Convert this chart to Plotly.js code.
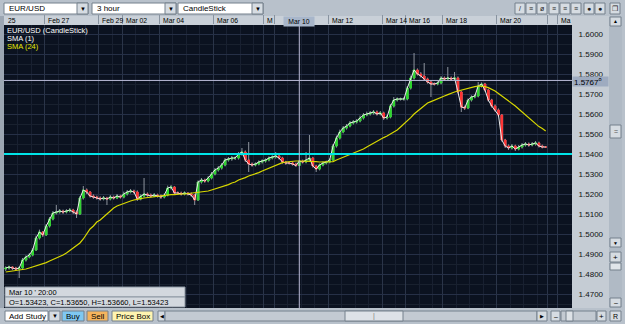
<!DOCTYPE html>
<html><head><meta charset="utf-8">
<script src="https://cdn.plot.ly/plotly-3.0.1.min.js"></script>
<style>html,body{margin:0;padding:0;background:#b8c1cb;overflow:hidden}#chart{width:625px;height:324px}</style>
</head><body><div id="chart"></div>
<script>
// ---------------- DATA (3-hour EUR/USD candles) ----------------
const openP=[1.4825,1.4830,1.4835,1.4830,1.4825,1.4830,1.4870,1.4885,1.4895,1.4920,
 1.4980,1.5010,1.4995,1.5040,1.5075,1.5105,1.5110,1.5115,1.5110,1.5115,
 1.5120,1.5110,1.5100,1.5180,1.5220,1.5210,1.5190,1.5185,1.5180,1.5175,
 1.5180,1.5175,1.5185,1.5180,1.5190,1.5185,1.5200,1.5210,1.5215,1.5210,
 1.5175,1.5190,1.5200,1.5195,1.5190,1.5195,1.5190,1.5185,1.5195,1.5230,
 1.5235,1.5205,1.5205,1.5200,1.5205,1.5200,1.5195,1.5170,1.5260,1.5270,
 1.5265,1.5280,1.5300,1.5320,1.5330,1.5345,1.5370,1.5375,1.5380,1.5380,
 1.5400,1.5410,1.5370,1.5350,1.5345,1.5350,1.5360,1.5365,1.5370,1.5380,
 1.5385,1.5390,1.5380,1.5360,1.5355,1.5355,1.5350,1.53423,1.5365,1.5360,
 1.5370,1.5380,1.5340,1.5325,1.5345,1.5355,1.5360,1.5370,1.5440,1.5480,
 1.5510,1.5530,1.5540,1.5555,1.5560,1.5565,1.5580,1.5595,1.5600,1.5605,
 1.5610,1.5600,1.5605,1.5580,1.5585,1.5640,1.5670,1.5675,1.5675,1.5675,
 1.5730,1.5780,1.5820,1.5800,1.5790,1.5775,1.5760,1.5750,1.5750,1.5755,
 1.5780,1.5775,1.5780,1.5775,1.5780,1.5710,1.5635,1.5630,1.5670,1.5685,
 1.5690,1.5740,1.5750,1.5720,1.5670,1.5640,1.5620,1.5595,1.5470,1.5440,
 1.5430,1.5440,1.5425,1.5435,1.5445,1.5450,1.5445,1.5450,1.5455,1.5440,
 1.5435];
const highP=[1.4838,1.4842,1.4840,1.4836,1.4838,1.4880,1.4893,1.4905,1.4930,1.4992,
 1.5022,1.5015,1.5050,1.5085,1.5115,1.5145,1.5125,1.5122,1.5124,1.5130,
 1.5126,1.5118,1.5190,1.5240,1.5228,1.5215,1.5198,1.5192,1.5188,1.5190,
 1.5186,1.5195,1.5192,1.5200,1.5196,1.5212,1.5220,1.5225,1.5222,1.5218,
 1.5198,1.5280,1.5208,1.5203,1.5205,1.5202,1.5198,1.5203,1.5242,1.5245,
 1.5240,1.5213,1.5212,1.5213,1.5210,1.5208,1.5200,1.5268,1.5280,1.5277,
 1.5290,1.5310,1.5330,1.5340,1.5355,1.5380,1.5385,1.5390,1.5388,1.5410,
 1.5430,1.5418,1.5460,1.5358,1.5358,1.5368,1.5373,1.5378,1.5388,1.5393,
 1.5410,1.5396,1.5386,1.5366,1.5363,1.5362,1.5357,1.5366,1.5372,1.5410,
 1.5495,1.5386,1.5346,1.5352,1.5362,1.5367,1.5378,1.5450,1.5492,1.5522,
 1.5540,1.5550,1.5565,1.5570,1.5575,1.5592,1.5605,1.5612,1.5615,1.5620,
 1.5618,1.5615,1.5612,1.5595,1.5650,1.5685,1.5683,1.5682,1.5684,1.5740,
 1.5792,1.5905,1.5828,1.5810,1.5855,1.5782,1.5768,1.5758,1.5763,1.5790,
 1.5788,1.5835,1.5788,1.5810,1.5788,1.5716,1.5642,1.5678,1.5693,1.5698,
 1.5760,1.5758,1.5756,1.5726,1.5676,1.5648,1.5628,1.5600,1.5476,1.5448,
 1.5450,1.5447,1.5445,1.5455,1.5460,1.5458,1.5460,1.5465,1.5462,1.5447,
 1.5440];
const lowP=[1.4815,1.4822,1.4820,1.4815,1.4780,1.4825,1.4862,1.4878,1.4888,1.4915,
 1.4972,1.4985,1.4990,1.5032,1.5068,1.5098,1.5102,1.5100,1.5103,1.5108,
 1.5100,1.5080,1.5095,1.5172,1.5200,1.5182,1.5176,1.5172,1.5166,1.5168,
 1.5145,1.5168,1.5172,1.5174,1.5177,1.5178,1.5192,1.5203,1.5202,1.5165,
 1.5168,1.5183,1.5186,1.5182,1.5184,1.5182,1.5175,1.5178,1.5188,1.5222,
 1.5198,1.5196,1.5192,1.5193,1.5192,1.5186,1.5145,1.5165,1.5252,1.5256,
 1.5258,1.5273,1.5293,1.5312,1.5322,1.5338,1.5362,1.5366,1.5370,1.5372,
 1.5392,1.5360,1.5310,1.5336,1.5338,1.5343,1.5352,1.5357,1.5363,1.5373,
 1.5377,1.5372,1.5352,1.5346,1.5347,1.5342,1.5335,1.53423,1.5352,1.5353,
 1.5362,1.5332,1.5310,1.5318,1.5338,1.5348,1.5353,1.5365,1.5432,1.5472,
 1.5503,1.5522,1.5533,1.5547,1.5552,1.5558,1.5572,1.5588,1.5592,1.5597,
 1.5592,1.5593,1.5570,1.5572,1.5578,1.5632,1.5662,1.5667,1.5666,1.5668,
 1.5722,1.5772,1.5792,1.5782,1.5766,1.5752,1.5685,1.5742,1.5743,1.5748,
 1.5767,1.5768,1.5766,1.5768,1.5702,1.5610,1.5620,1.5624,1.5662,1.5678,
 1.5683,1.5732,1.5712,1.5662,1.5632,1.5612,1.5587,1.5462,1.5430,1.5420,
 1.5422,1.5415,1.5418,1.5427,1.5437,1.5436,1.5438,1.5442,1.5432,1.5428,
 1.5430];
const closeP=[1.4830,1.4835,1.4830,1.4825,1.4830,1.4870,1.4885,1.4895,1.4920,1.4980,
 1.5010,1.4995,1.5040,1.5075,1.5105,1.5110,1.5115,1.5110,1.5115,1.5120,
 1.5110,1.5100,1.5180,1.5220,1.5210,1.5190,1.5185,1.5180,1.5175,1.5180,
 1.5175,1.5185,1.5180,1.5190,1.5185,1.5200,1.5210,1.5215,1.5210,1.5175,
 1.5190,1.5200,1.5195,1.5190,1.5195,1.5190,1.5185,1.5195,1.5230,1.5235,
 1.5205,1.5205,1.5200,1.5205,1.5200,1.5195,1.5170,1.5260,1.5270,1.5265,
 1.5280,1.5300,1.5320,1.5330,1.5345,1.5370,1.5375,1.5380,1.5380,1.5400,
 1.5410,1.5370,1.5350,1.5345,1.5350,1.5360,1.5365,1.5370,1.5380,1.5385,
 1.5390,1.5380,1.5360,1.5355,1.5355,1.5350,1.53423,1.53650,1.5360,1.5370,
 1.5380,1.5340,1.5325,1.5345,1.5355,1.5360,1.5370,1.5440,1.5480,1.5510,
 1.5530,1.5540,1.5555,1.5560,1.5565,1.5580,1.5595,1.5600,1.5605,1.5610,
 1.5600,1.5605,1.5580,1.5585,1.5640,1.5670,1.5675,1.5675,1.5675,1.5730,
 1.5780,1.5820,1.5800,1.5790,1.5775,1.5760,1.5750,1.5750,1.5755,1.5780,
 1.5775,1.5780,1.5775,1.5780,1.5710,1.5635,1.5630,1.5670,1.5685,1.5690,
 1.5740,1.5750,1.5720,1.5670,1.5640,1.5620,1.5595,1.5470,1.5440,1.5430,
 1.5440,1.5425,1.5435,1.5445,1.5450,1.5445,1.5450,1.5455,1.5440,1.5435,
 1.5435];
const sma24=[1.4810,1.4812,1.4815,1.4817,1.4820,1.4822,1.4825,1.4830,1.4835,1.4840,
 1.4845,1.4850,1.4857,1.4865,1.4872,1.4880,1.4885,1.4895,1.4905,1.4917,
 1.4930,1.4945,1.4955,1.4975,1.5000,1.5025,1.5040,1.5060,1.5070,1.5085,
 1.5102,1.5115,1.5130,1.5140,1.5147,1.5155,1.5160,1.5165,1.5170,1.5175,
 1.5177,1.5180,1.5182,1.5185,1.5187,1.5190,1.5192,1.5195,1.5195,1.5197,
 1.5197,1.5200,1.5200,1.5200,1.5202,1.5205,1.5207,1.5210,1.5210,1.5212,
 1.5215,1.5220,1.5225,1.5230,1.5235,1.5240,1.5247,1.5255,1.5260,1.5270,
 1.5275,1.5282,1.5290,1.5295,1.5300,1.5307,1.5315,1.5322,1.5330,1.5335,
 1.5342,1.5350,1.5357,1.5360,1.5362,1.5365,1.5365,1.5365,1.5365,1.5365,
 1.5365,1.5365,1.5362,1.5360,1.5360,1.5360,1.5360,1.5362,1.5370,1.5377,
 1.5382,1.5390,1.5395,1.5402,1.5410,1.5417,1.5425,1.5435,1.5445,1.5455,
 1.5465,1.5475,1.5482,1.5490,1.5500,1.5510,1.5520,1.5535,1.5550,1.5565,
 1.5582,1.5600,1.5615,1.5630,1.5642,1.5655,1.5662,1.5670,1.5677,1.5682,
 1.5690,1.5697,1.5705,1.5710,1.5715,1.5720,1.5725,1.5730,1.5735,1.5737,
 1.5740,1.5740,1.5737,1.5732,1.5725,1.5715,1.5702,1.5690,1.5680,1.5667,
 1.5655,1.5640,1.5625,1.5610,1.5595,1.5580,1.5565,1.5550,1.5537,1.5527,
 1.5515];
// date strip: label text as displayed and the index of the first candle of that day
const dayLabels=["25","Feb 27","Feb 29","Mar 02","Mar 04","Mar 06","M","Mar 10","Mar 12","Mar 14","Mar 16","Mar 18","Mar 20","","Ma"];
const dayStarts=[-4,12,28,35,46,62,77,80,96,112,119,130,146,161,164];
const priceTicks=[1.47,1.48,1.49,1.50,1.51,1.52,1.53,1.54,1.55,1.56,1.57,1.58,1.59,1.60];
const supportLevel=1.54;
const cursorIndex=87;
const cursorPrice=1.57678;
const cursorDate="Mar 10 ' 20:00";
const cursorDay="Mar 10";
const symbolName="EUR/USD", periodName="3 hour", chartKind="CandleStick";

// ---------------- LAYOUT HELPERS ----------------
const W=625,H=324, FONT='Liberation Sans, Arial, sans-serif';
const PX0=4, PX1=572, PY0=25, PY1=308, CANDLE_PX=3.375;
const px=x=>x/W, py=y=>1-y/H;
const N=closeP.length, idx=closeP.map((_,i)=>i);
const shapes=[], ann=[];
function rect(x0,y0,x1,y1,fill,line,layer){shapes.push({type:'rect',xref:'paper',yref:'paper',x0:px(x0),x1:px(x1),y0:py(y1),y1:py(y0),fillcolor:fill,line:{color:line||fill,width:line?1:0},layer:layer||'below'});}
function txt(x,y,t,o){ann.push(Object.assign({xref:'paper',yref:'paper',x:px(x),y:py(y),text:t,showarrow:false,xanchor:'left',yanchor:'middle',font:{family:FONT,size:8,color:'#000'}},o||{}));}
const f=(s,c)=>({family:FONT,size:s,color:c||'#000'});
const BTN='#d6dce2', EDGE='#75808c';

// chrome
rect(0,16,PX0,PY1,'#9ca6b2');
rect(PX0,16,PX1,PY0,'#c9d0d8');
rect(PX1,16,609,PY1,'#c5ccd4');
rect(609,16,622,PY1,'#b0bac5');
// top toolbar dropdowns
[[4,88,symbolName],[92,176,periodName],[178,263,chartKind]].forEach(([a,b,t])=>{
  rect(a,3,b,14,'#ffffff',EDGE); rect(b-11,3,b,14,BTN,EDGE);
  txt(a+3,8.5,t,{font:f(8)});
  txt(b-5.5,8.5,'▼',{xanchor:'center',font:f(6)});
});
[[515,'/'],[526,'≡'],[537,'ø'],[549,'≡'],[560,'≡'],[571,'≡'],[584,'●'],[595,'●'],[610,'❐']].forEach(([a,g])=>{
  rect(a,3,a+10,14,BTN,EDGE); txt(a+5,8.5,g,{xanchor:'center',font:f(7,'#222')});
});
// right scroller
rect(610,17,621,26,BTN,EDGE); txt(615.5,21.5,'▲',{xanchor:'center',font:f(5)});
rect(610,125,621,138,BTN,EDGE); txt(615.5,131.5,'=',{xanchor:'center',font:f(7,'#555')});
rect(610,238,621,247,BTN,EDGE); txt(615.5,242.5,'▼',{xanchor:'center',font:f(5)});
rect(610,252,621,262,BTN,EDGE); txt(615.5,257,'+',{xanchor:'center',font:f(8)});
rect(610,263,621,270,'#e0e5ea',EDGE);
rect(610,298,621,307,BTN,EDGE); txt(615.5,302.5,'–',{xanchor:'center',font:f(7)});
// bottom toolbar
rect(5,311,48,321,'#ffffff',EDGE); txt(6.5,316,'Add Study',{font:f(8)});
rect(49,311,60,321,BTN,EDGE); txt(54.5,316,'▼',{xanchor:'center',font:f(6)});
rect(62,311,84,321,'#7fc8f2',EDGE); txt(73,316,'Buy',{xanchor:'center',font:f(8)});
rect(87,311,108,321,'#f5b45e',EDGE); txt(97.5,316,'Sell',{xanchor:'center',font:f(8)});
rect(112,311,153,321,'#fff4b0',EDGE); txt(132.5,316,'Price Box',{xanchor:'center',font:f(8)});
rect(158,311,165,321,BTN,EDGE); txt(161.5,316,'◀',{xanchor:'center',font:f(5)});
rect(165,311,537,321,'#c3cad2',EDGE);
rect(345,311,403,321,'#dde2e7',EDGE); txt(374,316,'|',{xanchor:'center',font:f(7,'#777')});
rect(537,311,547,321,BTN,EDGE); txt(542,316,'▶',{xanchor:'center',font:f(5)});
rect(551,311,560,321,BTN,EDGE); txt(555.5,316,'–',{xanchor:'center',font:f(7)});
rect(561,311,596,321,'#c3cad2',EDGE); rect(566,311,573,321,'#dde2e7',EDGE);
rect(597,311,606,321,BTN,EDGE); txt(601.5,316,'+',{xanchor:'center',font:f(8)});
rect(610,311,621,321,BTN,EDGE); txt(615.5,316,'R',{xanchor:'center',font:f(7)});

// date strip labels (data x = candle index); a day that started before the view is pinned to the left edge
const bounds=dayStarts.map(d=>d-0.5);
dayLabels.forEach((t,j)=>{ if(!t || dayStarts[j]===80) return;
  if(bounds[j] < -0.5){ txt(PX0+2,20.5,t,{font:f(6.8)}); return; }
  ann.push({xref:'x',yref:'paper',x:bounds[j],y:py(20.5),text:t,showarrow:false,xanchor:'left',yanchor:'middle',xshift:1.5,font:f(6.8)});
});
const minorVals=[];
bounds.forEach((b,j)=>{const nx=j+1<bounds.length?bounds[j+1]:N+10; for(let v=b+4;v<nx-1;v+=4) minorVals.push(v);});

// legend text in plot
txt(5,30.5,symbolName+' ('+chartKind+')',{font:f(7.5,'#ffffff')});
txt(5,38.5,'SMA (1)',{font:f(7.5,'#ffffff')});
txt(5,46.5,'SMA (24)',{font:f(7.5,'#e8e800')});

// level & crosshair
shapes.push({type:'line',xref:'paper',yref:'y',x0:px(PX0),x1:px(PX1),y0:supportLevel,y1:supportLevel,line:{color:'#00e4e8',width:2},layer:'above'});
shapes.push({type:'line',xref:'paper',yref:'y',x0:px(PX0),x1:px(PX1),y0:cursorPrice,y1:cursorPrice,line:{color:'#b9b9d6',width:1},layer:'above'});
shapes.push({type:'line',xref:'x',yref:'paper',x0:cursorIndex,x1:cursorIndex,y0:py(PY1),y1:py(PY0),line:{color:'#b9b9d6',width:1},layer:'above'});
ann.push({xref:'paper',yref:'paper',x:px(283),y:py(16),xanchor:'left',yanchor:'top',text:cursorDay,showarrow:false,
  bgcolor:'#a8b6ca',width:28,height:7,borderpad:1,align:'center',font:f(6.8)});
const cp=cursorPrice.toFixed(5);
ann.push({xref:'paper',yref:'paper',x:px(572),y:py(76),xanchor:'left',yanchor:'top',text:cp.slice(0,6)+'<sup>'+cp.slice(6)+'</sup>',showarrow:false,
  bgcolor:'#9eabc0',width:33,height:7,borderpad:1,align:'left',font:f(8)});
// info box
const f5=v=>v.toFixed(5);
rect(5,287,185,297,'#d3d8de','#8d97a3','above'); rect(5,297,185,307,'#d3d8de','#8d97a3','above');
txt(7,292,cursorDate,{font:f(7.5)});
txt(7,302,'O='+f5(openP[cursorIndex])+', C='+f5(closeP[cursorIndex])+', H='+f5(highP[cursorIndex])+', L='+f5(lowP[cursorIndex]),{font:f(7.5)});

// ---------------- TRACES ----------------
const bodyTop=openP.map((o,i)=>Math.max(o,closeP[i]));
const bodyBot=openP.map((o,i)=>Math.min(o,closeP[i]));
const WICK='#8e949e';
const traces=[
 {type:'candlestick',x:idx,open:openP,high:highP,low:lowP,close:closeP,whiskerwidth:0,
  increasing:{line:{color:WICK,width:1},fillcolor:WICK},decreasing:{line:{color:WICK,width:1},fillcolor:WICK},hoverinfo:'skip'},
 {type:'candlestick',x:idx,open:openP,high:bodyTop,low:bodyBot,close:closeP,whiskerwidth:0,
  increasing:{line:{color:'#2ed62e',width:1},fillcolor:'#2ed62e'},decreasing:{line:{color:'#ff3434',width:1},fillcolor:'#ff3434'},hoverinfo:'skip'},
 {type:'scatter',mode:'lines',x:idx,y:closeP,line:{color:'#ececec',width:1},hoverinfo:'skip'},
 {type:'scatter',mode:'lines',x:idx,y:sma24,line:{color:'#d8d800',width:1.2},hoverinfo:'skip'}
];
const layout={width:W,height:H,margin:{l:0,r:0,t:0,b:0},paper_bgcolor:'#b8c1cb',plot_bgcolor:'#0b1220',
 showlegend:false,hovermode:false,dragmode:false,
 xaxis:{domain:[px(PX0),px(PX1)],range:[-0.5,(PX1-PX0)/CANDLE_PX-0.5],side:'top',tickmode:'array',tickvals:bounds,showticklabels:false,
  ticks:'outside',ticklen:9,tickwidth:1,tickcolor:'#8893a0',showgrid:true,gridcolor:'#2a3448',zeroline:false,showline:false,
  rangeslider:{visible:false},minor:{tickvals:minorVals,showgrid:true,gridcolor:'#182031',ticks:''},fixedrange:true},
 yaxis:{domain:[py(PY1),py(PY0)],range:[1.6-(PY1-34)/2000,1.6+(34-PY0)/2000],side:'right',tickmode:'array',tickvals:priceTicks,
  ticktext:priceTicks.map(v=>v.toFixed(4)),tickfont:f(8,'#111'),ticks:'outside',ticklen:4,tickcolor:'rgba(0,0,0,0)',
  showgrid:true,gridcolor:'#263047',zeroline:false,showline:false,minor:{dtick:0.005,showgrid:true,gridcolor:'#19212f'},fixedrange:true},
 shapes:shapes,annotations:ann};
Plotly.newPlot('chart',traces,layout,{staticPlot:true,displayModeBar:false});
</script></body></html>
